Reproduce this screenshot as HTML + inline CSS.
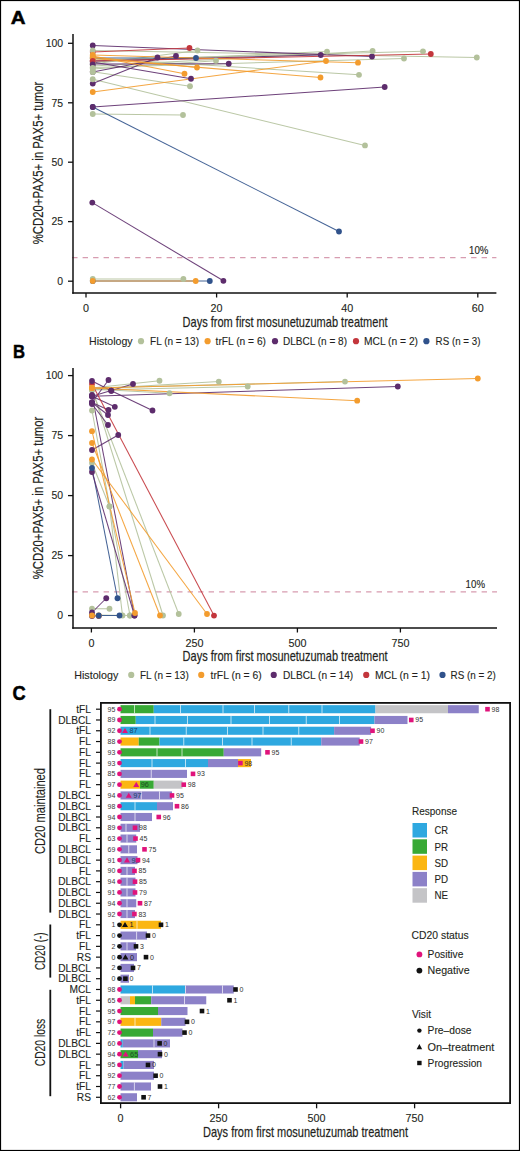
<!DOCTYPE html>
<html><head><meta charset="utf-8"><style>
html,body{margin:0;padding:0;background:#fff;}
body{width:520px;height:1151px;overflow:hidden;}
svg{display:block;font-family:"Liberation Sans", sans-serif;}
text.m{stroke:#231f20;stroke-width:0.22px;stroke-opacity:0.55;}
</style></head><body>
<svg width="520" height="1151" viewBox="0 0 520 1151" font-family='"Liberation Sans", sans-serif' fill="#231f20">
<rect x="0" y="0" width="520" height="1151" fill="#fff"/>
<text x="10.70" y="23.70" font-size="18.8" textLength="14.80" lengthAdjust="spacingAndGlyphs" fill="#000" font-weight="bold" stroke="#000" stroke-width="0.5">A</text>
<text x="13.00" y="358.20" font-size="19.0" textLength="12.00" lengthAdjust="spacingAndGlyphs" fill="#000" font-weight="bold" stroke="#000" stroke-width="0.5">B</text>
<text x="12.60" y="699.90" font-size="19.8" textLength="13.20" lengthAdjust="spacingAndGlyphs" fill="#000" font-weight="bold" stroke="#000" stroke-width="0.5">C</text>
<line x1="72.10" y1="257.60" x2="496.40" y2="257.60" stroke="#d79cb0" stroke-width="1.2" stroke-dasharray="5.4 5.1"/>
<line x1="73.00" y1="34.00" x2="73.00" y2="293.75" stroke="#111" stroke-width="1.5" />
<line x1="72.25" y1="293.00" x2="496.40" y2="293.00" stroke="#111" stroke-width="1.5" />
<line x1="68.00" y1="43.30" x2="73.00" y2="43.30" stroke="#111" stroke-width="1.3" />
<text class="m" x="63.10" y="47.10" font-size="10.3" text-anchor="end" textLength="17.40" lengthAdjust="spacingAndGlyphs" >100</text>
<line x1="68.00" y1="102.80" x2="73.00" y2="102.80" stroke="#111" stroke-width="1.3" />
<text class="m" x="63.10" y="106.60" font-size="10.3" text-anchor="end" textLength="11.60" lengthAdjust="spacingAndGlyphs" >75</text>
<line x1="68.00" y1="162.20" x2="73.00" y2="162.20" stroke="#111" stroke-width="1.3" />
<text class="m" x="63.10" y="166.00" font-size="10.3" text-anchor="end" textLength="11.60" lengthAdjust="spacingAndGlyphs" >50</text>
<line x1="68.00" y1="221.60" x2="73.00" y2="221.60" stroke="#111" stroke-width="1.3" />
<text class="m" x="63.10" y="225.40" font-size="10.3" text-anchor="end" textLength="11.60" lengthAdjust="spacingAndGlyphs" >25</text>
<line x1="68.00" y1="281.20" x2="73.00" y2="281.20" stroke="#111" stroke-width="1.3" />
<text class="m" x="63.10" y="285.00" font-size="10.3" text-anchor="end" textLength="5.80" lengthAdjust="spacingAndGlyphs" >0</text>
<line x1="86.00" y1="293.00" x2="86.00" y2="297.50" stroke="#111" stroke-width="1.3" />
<text class="m" x="86.00" y="311.60" font-size="10.3" text-anchor="middle" textLength="6.00" lengthAdjust="spacingAndGlyphs" >0</text>
<line x1="216.60" y1="293.00" x2="216.60" y2="297.50" stroke="#111" stroke-width="1.3" />
<text class="m" x="216.60" y="311.60" font-size="10.3" text-anchor="middle" textLength="12.00" lengthAdjust="spacingAndGlyphs" >20</text>
<line x1="347.20" y1="293.00" x2="347.20" y2="297.50" stroke="#111" stroke-width="1.3" />
<text class="m" x="347.20" y="311.60" font-size="10.3" text-anchor="middle" textLength="12.00" lengthAdjust="spacingAndGlyphs" >40</text>
<line x1="477.80" y1="293.00" x2="477.80" y2="297.50" stroke="#111" stroke-width="1.3" />
<text class="m" x="477.80" y="311.60" font-size="10.3" text-anchor="middle" textLength="12.00" lengthAdjust="spacingAndGlyphs" >60</text>
<text class="m" x="469.00" y="254.20" font-size="10.3" textLength="19.40" lengthAdjust="spacingAndGlyphs" >10%</text>
<text class="m" x="182.60" y="327.20" font-size="14.4" textLength="205.00" lengthAdjust="spacingAndGlyphs" style="stroke-width:0.4px">Days from first mosunetuzumab treatment</text>
<text class="m" x="0" y="0" font-size="14.4" style="stroke-width:0.35px" textLength="162.5" lengthAdjust="spacingAndGlyphs" text-anchor="middle" fill="#231f20" transform="translate(42.6 163) rotate(-90)">%CD20+PAX5+ in PAX5+ tumor</text>
<line x1="92.75" y1="50.50" x2="476.80" y2="57.50" stroke="#b3c19b" stroke-width="1.05" stroke-opacity="0.9"/>
<line x1="92.75" y1="60.00" x2="423.00" y2="51.30" stroke="#b3c19b" stroke-width="1.05" stroke-opacity="0.9"/>
<line x1="92.75" y1="66.00" x2="372.60" y2="51.00" stroke="#b3c19b" stroke-width="1.05" stroke-opacity="0.9"/>
<line x1="92.75" y1="67.40" x2="404.00" y2="58.50" stroke="#b3c19b" stroke-width="1.05" stroke-opacity="0.9"/>
<line x1="92.75" y1="62.00" x2="327.00" y2="51.60" stroke="#b3c19b" stroke-width="1.05" stroke-opacity="0.9"/>
<line x1="92.75" y1="64.00" x2="197.50" y2="50.50" stroke="#b3c19b" stroke-width="1.05" stroke-opacity="0.9"/>
<line x1="92.75" y1="69.00" x2="216.00" y2="60.75" stroke="#b3c19b" stroke-width="1.05" stroke-opacity="0.9"/>
<line x1="92.75" y1="71.75" x2="190.00" y2="86.25" stroke="#b3c19b" stroke-width="1.05" stroke-opacity="0.9"/>
<line x1="92.75" y1="79.25" x2="365.00" y2="145.40" stroke="#b3c19b" stroke-width="1.05" stroke-opacity="0.9"/>
<line x1="92.75" y1="58.00" x2="359.00" y2="74.80" stroke="#b3c19b" stroke-width="1.05" stroke-opacity="0.9"/>
<line x1="92.75" y1="114.00" x2="183.00" y2="115.00" stroke="#b3c19b" stroke-width="1.05" stroke-opacity="0.9"/>
<line x1="92.75" y1="279.00" x2="183.40" y2="279.00" stroke="#b3c19b" stroke-width="1.05" stroke-opacity="0.9"/>
<line x1="92.75" y1="45.50" x2="372.00" y2="56.50" stroke="#5d2c6c" stroke-width="1.05" stroke-opacity="0.9"/>
<line x1="92.75" y1="64.00" x2="228.75" y2="63.75" stroke="#5d2c6c" stroke-width="1.05" stroke-opacity="0.9"/>
<line x1="92.75" y1="62.00" x2="191.00" y2="78.75" stroke="#5d2c6c" stroke-width="1.05" stroke-opacity="0.9"/>
<line x1="92.75" y1="72.00" x2="176.00" y2="56.00" stroke="#5d2c6c" stroke-width="1.05" stroke-opacity="0.9"/>
<line x1="92.75" y1="83.60" x2="157.50" y2="57.50" stroke="#5d2c6c" stroke-width="1.05" stroke-opacity="0.9"/>
<line x1="92.75" y1="61.00" x2="320.75" y2="55.00" stroke="#5d2c6c" stroke-width="1.05" stroke-opacity="0.9"/>
<line x1="92.75" y1="107.00" x2="384.70" y2="87.00" stroke="#5d2c6c" stroke-width="1.05" stroke-opacity="0.9"/>
<line x1="92.30" y1="202.60" x2="223.40" y2="280.80" stroke="#5d2c6c" stroke-width="1.05" stroke-opacity="0.9"/>
<line x1="92.75" y1="52.00" x2="189.50" y2="48.00" stroke="#c3363c" stroke-width="1.05" stroke-opacity="0.9"/>
<line x1="92.75" y1="61.00" x2="430.80" y2="54.00" stroke="#c3363c" stroke-width="1.05" stroke-opacity="0.9"/>
<line x1="92.75" y1="58.00" x2="196.00" y2="58.00" stroke="#30528b" stroke-width="1.05" stroke-opacity="0.9"/>
<line x1="92.75" y1="107.00" x2="339.00" y2="231.50" stroke="#30528b" stroke-width="1.05" stroke-opacity="0.9"/>
<line x1="92.75" y1="281.00" x2="209.80" y2="281.00" stroke="#30528b" stroke-width="1.05" stroke-opacity="0.9"/>
<line x1="92.75" y1="58.60" x2="320.50" y2="77.50" stroke="#f39c2e" stroke-width="1.05" stroke-opacity="0.9"/>
<line x1="92.75" y1="55.00" x2="358.00" y2="62.70" stroke="#f39c2e" stroke-width="1.05" stroke-opacity="0.9"/>
<line x1="92.75" y1="57.00" x2="197.00" y2="67.50" stroke="#f39c2e" stroke-width="1.05" stroke-opacity="0.9"/>
<line x1="92.75" y1="56.00" x2="184.50" y2="73.75" stroke="#f39c2e" stroke-width="1.05" stroke-opacity="0.9"/>
<line x1="92.75" y1="92.00" x2="326.00" y2="61.00" stroke="#f39c2e" stroke-width="1.05" stroke-opacity="0.9"/>
<line x1="92.75" y1="281.00" x2="195.70" y2="281.00" stroke="#f39c2e" stroke-width="1.05" stroke-opacity="0.9"/>
<circle cx="92.75" cy="52.00" r="2.9" fill="#c3363c" />
<circle cx="189.50" cy="48.00" r="2.9" fill="#c3363c" />
<circle cx="92.75" cy="61.00" r="2.9" fill="#c3363c" />
<circle cx="430.80" cy="54.00" r="2.9" fill="#c3363c" />
<circle cx="92.75" cy="58.00" r="2.9" fill="#30528b" />
<circle cx="196.00" cy="58.00" r="2.9" fill="#30528b" />
<circle cx="92.75" cy="107.00" r="2.9" fill="#30528b" />
<circle cx="339.00" cy="231.50" r="2.9" fill="#30528b" />
<circle cx="92.75" cy="281.00" r="2.9" fill="#30528b" />
<circle cx="209.80" cy="281.00" r="2.9" fill="#30528b" />
<circle cx="92.75" cy="45.50" r="2.9" fill="#5d2c6c" />
<circle cx="372.00" cy="56.50" r="2.9" fill="#5d2c6c" />
<circle cx="92.75" cy="64.00" r="2.9" fill="#5d2c6c" />
<circle cx="228.75" cy="63.75" r="2.9" fill="#5d2c6c" />
<circle cx="92.75" cy="62.00" r="2.9" fill="#5d2c6c" />
<circle cx="191.00" cy="78.75" r="2.9" fill="#5d2c6c" />
<circle cx="92.75" cy="72.00" r="2.9" fill="#5d2c6c" />
<circle cx="176.00" cy="56.00" r="2.9" fill="#5d2c6c" />
<circle cx="92.75" cy="83.60" r="2.9" fill="#5d2c6c" />
<circle cx="157.50" cy="57.50" r="2.9" fill="#5d2c6c" />
<circle cx="92.75" cy="61.00" r="2.9" fill="#5d2c6c" />
<circle cx="320.75" cy="55.00" r="2.9" fill="#5d2c6c" />
<circle cx="92.75" cy="107.00" r="2.9" fill="#5d2c6c" />
<circle cx="384.70" cy="87.00" r="2.9" fill="#5d2c6c" />
<circle cx="92.30" cy="202.60" r="2.9" fill="#5d2c6c" />
<circle cx="223.40" cy="280.80" r="2.9" fill="#5d2c6c" />
<circle cx="92.75" cy="50.50" r="2.9" fill="#b3c19b" />
<circle cx="476.80" cy="57.50" r="2.9" fill="#b3c19b" />
<circle cx="92.75" cy="60.00" r="2.9" fill="#b3c19b" />
<circle cx="423.00" cy="51.30" r="2.9" fill="#b3c19b" />
<circle cx="92.75" cy="66.00" r="2.9" fill="#b3c19b" />
<circle cx="372.60" cy="51.00" r="2.9" fill="#b3c19b" />
<circle cx="92.75" cy="67.40" r="2.9" fill="#b3c19b" />
<circle cx="404.00" cy="58.50" r="2.9" fill="#b3c19b" />
<circle cx="92.75" cy="62.00" r="2.9" fill="#b3c19b" />
<circle cx="327.00" cy="51.60" r="2.9" fill="#b3c19b" />
<circle cx="92.75" cy="64.00" r="2.9" fill="#b3c19b" />
<circle cx="197.50" cy="50.50" r="2.9" fill="#b3c19b" />
<circle cx="92.75" cy="69.00" r="2.9" fill="#b3c19b" />
<circle cx="216.00" cy="60.75" r="2.9" fill="#b3c19b" />
<circle cx="92.75" cy="71.75" r="2.9" fill="#b3c19b" />
<circle cx="190.00" cy="86.25" r="2.9" fill="#b3c19b" />
<circle cx="92.75" cy="79.25" r="2.9" fill="#b3c19b" />
<circle cx="365.00" cy="145.40" r="2.9" fill="#b3c19b" />
<circle cx="92.75" cy="58.00" r="2.9" fill="#b3c19b" />
<circle cx="359.00" cy="74.80" r="2.9" fill="#b3c19b" />
<circle cx="92.75" cy="114.00" r="2.9" fill="#b3c19b" />
<circle cx="183.00" cy="115.00" r="2.9" fill="#b3c19b" />
<circle cx="92.75" cy="279.00" r="2.9" fill="#b3c19b" />
<circle cx="183.40" cy="279.00" r="2.9" fill="#b3c19b" />
<circle cx="92.75" cy="58.60" r="2.9" fill="#f39c2e" />
<circle cx="320.50" cy="77.50" r="2.9" fill="#f39c2e" />
<circle cx="92.75" cy="55.00" r="2.9" fill="#f39c2e" />
<circle cx="358.00" cy="62.70" r="2.9" fill="#f39c2e" />
<circle cx="92.75" cy="57.00" r="2.9" fill="#f39c2e" />
<circle cx="197.00" cy="67.50" r="2.9" fill="#f39c2e" />
<circle cx="92.75" cy="56.00" r="2.9" fill="#f39c2e" />
<circle cx="184.50" cy="73.75" r="2.9" fill="#f39c2e" />
<circle cx="92.75" cy="92.00" r="2.9" fill="#f39c2e" />
<circle cx="326.00" cy="61.00" r="2.9" fill="#f39c2e" />
<circle cx="92.75" cy="281.00" r="2.9" fill="#f39c2e" />
<circle cx="195.70" cy="281.00" r="2.9" fill="#f39c2e" />
<circle cx="92.75" cy="61.00" r="2.9" fill="#c3363c" />
<circle cx="92.75" cy="64.50" r="2.9" fill="#5d2c6c" />
<circle cx="92.75" cy="68.00" r="2.9" fill="#b3c19b" />
<circle cx="92.75" cy="72.00" r="2.9" fill="#b3c19b" />
<text class="m" x="89.00" y="345.20" font-size="10.6" textLength="43.60" lengthAdjust="spacingAndGlyphs" >Histology</text>
<circle cx="141.00" cy="341.20" r="3.1" fill="#b3c19b" />
<text class="m" x="150.00" y="345.20" font-size="10.6" textLength="49.00" lengthAdjust="spacingAndGlyphs" >FL (n = 13)</text>
<circle cx="207.60" cy="341.20" r="3.1" fill="#f39c2e" />
<text class="m" x="215.60" y="345.20" font-size="10.6" textLength="50.40" lengthAdjust="spacingAndGlyphs" >trFL (n = 6)</text>
<circle cx="275.00" cy="341.20" r="3.1" fill="#5d2c6c" />
<text class="m" x="283.00" y="345.20" font-size="10.6" textLength="64.00" lengthAdjust="spacingAndGlyphs" >DLBCL (n = 8)</text>
<circle cx="356.00" cy="341.20" r="3.1" fill="#c3363c" />
<text class="m" x="364.00" y="345.20" font-size="10.6" textLength="54.00" lengthAdjust="spacingAndGlyphs" >MCL (n = 2)</text>
<circle cx="426.40" cy="341.20" r="3.1" fill="#30528b" />
<text class="m" x="435.60" y="345.20" font-size="10.6" textLength="44.80" lengthAdjust="spacingAndGlyphs" >RS (n = 3)</text>
<line x1="72.10" y1="591.80" x2="497.00" y2="591.80" stroke="#d79cb0" stroke-width="1.2" stroke-dasharray="5.4 5.1"/>
<line x1="73.00" y1="368.00" x2="73.00" y2="628.75" stroke="#111" stroke-width="1.5" />
<line x1="72.25" y1="628.00" x2="497.00" y2="628.00" stroke="#111" stroke-width="1.5" />
<line x1="68.00" y1="375.60" x2="73.00" y2="375.60" stroke="#111" stroke-width="1.3" />
<text class="m" x="63.10" y="379.40" font-size="10.3" text-anchor="end" textLength="17.40" lengthAdjust="spacingAndGlyphs" >100</text>
<line x1="68.00" y1="435.60" x2="73.00" y2="435.60" stroke="#111" stroke-width="1.3" />
<text class="m" x="63.10" y="439.40" font-size="10.3" text-anchor="end" textLength="11.60" lengthAdjust="spacingAndGlyphs" >75</text>
<line x1="68.00" y1="495.60" x2="73.00" y2="495.60" stroke="#111" stroke-width="1.3" />
<text class="m" x="63.10" y="499.40" font-size="10.3" text-anchor="end" textLength="11.60" lengthAdjust="spacingAndGlyphs" >50</text>
<line x1="68.00" y1="555.60" x2="73.00" y2="555.60" stroke="#111" stroke-width="1.3" />
<text class="m" x="63.10" y="559.40" font-size="10.3" text-anchor="end" textLength="11.60" lengthAdjust="spacingAndGlyphs" >25</text>
<line x1="68.00" y1="615.60" x2="73.00" y2="615.60" stroke="#111" stroke-width="1.3" />
<text class="m" x="63.10" y="619.40" font-size="10.3" text-anchor="end" textLength="5.80" lengthAdjust="spacingAndGlyphs" >0</text>
<line x1="91.40" y1="628.00" x2="91.40" y2="632.50" stroke="#111" stroke-width="1.3" />
<text class="m" x="91.40" y="646.60" font-size="10.3" text-anchor="middle" textLength="6.00" lengthAdjust="spacingAndGlyphs" >0</text>
<line x1="194.40" y1="628.00" x2="194.40" y2="632.50" stroke="#111" stroke-width="1.3" />
<text class="m" x="194.40" y="646.60" font-size="10.3" text-anchor="middle" textLength="18.00" lengthAdjust="spacingAndGlyphs" >250</text>
<line x1="297.40" y1="628.00" x2="297.40" y2="632.50" stroke="#111" stroke-width="1.3" />
<text class="m" x="297.40" y="646.60" font-size="10.3" text-anchor="middle" textLength="18.00" lengthAdjust="spacingAndGlyphs" >500</text>
<line x1="400.40" y1="628.00" x2="400.40" y2="632.50" stroke="#111" stroke-width="1.3" />
<text class="m" x="400.40" y="646.60" font-size="10.3" text-anchor="middle" textLength="18.00" lengthAdjust="spacingAndGlyphs" >750</text>
<text class="m" x="465.60" y="588.40" font-size="10.3" textLength="19.40" lengthAdjust="spacingAndGlyphs" >10%</text>
<text class="m" x="182.60" y="661.20" font-size="14.4" textLength="205.00" lengthAdjust="spacingAndGlyphs" style="stroke-width:0.4px">Days from first mosunetuzumab treatment</text>
<text class="m" x="0" y="0" font-size="14.4" style="stroke-width:0.35px" textLength="162.5" lengthAdjust="spacingAndGlyphs" text-anchor="middle" fill="#231f20" transform="translate(42.6 498) rotate(-90)">%CD20+PAX5+ in PAX5+ tumor</text>
<line x1="92.00" y1="388.00" x2="159.50" y2="380.75" stroke="#b3c19b" stroke-width="1.05" stroke-opacity="0.9"/>
<line x1="92.00" y1="389.00" x2="218.80" y2="381.60" stroke="#b3c19b" stroke-width="1.05" stroke-opacity="0.9"/>
<line x1="92.00" y1="390.00" x2="247.70" y2="386.50" stroke="#b3c19b" stroke-width="1.05" stroke-opacity="0.9"/>
<line x1="92.00" y1="388.00" x2="345.00" y2="381.60" stroke="#b3c19b" stroke-width="1.05" stroke-opacity="0.9"/>
<line x1="92.00" y1="389.00" x2="169.50" y2="393.25" stroke="#b3c19b" stroke-width="1.05" stroke-opacity="0.9"/>
<line x1="92.00" y1="388.00" x2="163.00" y2="615.50" stroke="#b3c19b" stroke-width="1.05" stroke-opacity="0.9"/>
<line x1="92.00" y1="390.00" x2="178.75" y2="614.00" stroke="#b3c19b" stroke-width="1.05" stroke-opacity="0.9"/>
<line x1="92.00" y1="463.00" x2="109.50" y2="506.50" stroke="#b3c19b" stroke-width="1.05" stroke-opacity="0.9"/>
<line x1="109.50" y1="506.50" x2="122.50" y2="615.50" stroke="#b3c19b" stroke-width="1.05" stroke-opacity="0.9"/>
<line x1="92.00" y1="608.75" x2="109.50" y2="608.75" stroke="#b3c19b" stroke-width="1.05" stroke-opacity="0.9"/>
<line x1="92.00" y1="615.00" x2="130.00" y2="615.50" stroke="#b3c19b" stroke-width="1.05" stroke-opacity="0.9"/>
<line x1="92.00" y1="410.50" x2="130.00" y2="615.50" stroke="#b3c19b" stroke-width="1.05" stroke-opacity="0.9"/>
<line x1="92.00" y1="468.00" x2="117.50" y2="598.25" stroke="#30528b" stroke-width="1.05" stroke-opacity="0.9"/>
<line x1="98.75" y1="615.50" x2="119.50" y2="615.50" stroke="#30528b" stroke-width="1.05" stroke-opacity="0.9"/>
<line x1="92.00" y1="381.00" x2="111.25" y2="390.75" stroke="#5d2c6c" stroke-width="1.05" stroke-opacity="0.9"/>
<line x1="111.25" y1="390.75" x2="152.50" y2="410.50" stroke="#5d2c6c" stroke-width="1.05" stroke-opacity="0.9"/>
<line x1="92.00" y1="402.50" x2="108.50" y2="380.00" stroke="#5d2c6c" stroke-width="1.05" stroke-opacity="0.9"/>
<line x1="92.00" y1="396.20" x2="133.00" y2="384.00" stroke="#5d2c6c" stroke-width="1.05" stroke-opacity="0.9"/>
<line x1="92.00" y1="396.20" x2="397.80" y2="386.50" stroke="#5d2c6c" stroke-width="1.05" stroke-opacity="0.9"/>
<line x1="92.00" y1="396.20" x2="114.80" y2="406.80" stroke="#5d2c6c" stroke-width="1.05" stroke-opacity="0.9"/>
<line x1="92.00" y1="402.50" x2="108.50" y2="410.00" stroke="#5d2c6c" stroke-width="1.05" stroke-opacity="0.9"/>
<line x1="92.00" y1="402.50" x2="108.00" y2="415.00" stroke="#5d2c6c" stroke-width="1.05" stroke-opacity="0.9"/>
<line x1="92.00" y1="404.00" x2="108.00" y2="425.00" stroke="#5d2c6c" stroke-width="1.05" stroke-opacity="0.9"/>
<line x1="92.00" y1="450.00" x2="118.25" y2="435.00" stroke="#5d2c6c" stroke-width="1.05" stroke-opacity="0.9"/>
<line x1="92.00" y1="472.00" x2="134.50" y2="615.50" stroke="#5d2c6c" stroke-width="1.05" stroke-opacity="0.9"/>
<line x1="92.00" y1="395.00" x2="134.50" y2="615.50" stroke="#5d2c6c" stroke-width="1.05" stroke-opacity="0.9"/>
<line x1="92.00" y1="612.50" x2="106.25" y2="598.25" stroke="#5d2c6c" stroke-width="1.05" stroke-opacity="0.9"/>
<line x1="92.00" y1="616.00" x2="98.75" y2="616.00" stroke="#5d2c6c" stroke-width="1.05" stroke-opacity="0.9"/>
<line x1="92.00" y1="384.00" x2="214.00" y2="615.60" stroke="#c3363c" stroke-width="1.05" stroke-opacity="0.9"/>
<line x1="92.00" y1="388.00" x2="477.80" y2="378.50" stroke="#f39c2e" stroke-width="1.05" stroke-opacity="0.9"/>
<line x1="92.00" y1="388.00" x2="357.20" y2="400.70" stroke="#f39c2e" stroke-width="1.05" stroke-opacity="0.9"/>
<line x1="92.00" y1="459.50" x2="207.00" y2="614.00" stroke="#f39c2e" stroke-width="1.05" stroke-opacity="0.9"/>
<line x1="92.00" y1="443.00" x2="160.00" y2="615.50" stroke="#f39c2e" stroke-width="1.05" stroke-opacity="0.9"/>
<line x1="92.00" y1="431.20" x2="135.00" y2="613.00" stroke="#f39c2e" stroke-width="1.05" stroke-opacity="0.9"/>
<line x1="92.00" y1="615.50" x2="98.75" y2="615.50" stroke="#f39c2e" stroke-width="1.05" stroke-opacity="0.9"/>
<circle cx="92.00" cy="384.00" r="2.9" fill="#c3363c" />
<circle cx="214.00" cy="615.60" r="2.9" fill="#c3363c" />
<circle cx="92.00" cy="388.00" r="2.9" fill="#b3c19b" />
<circle cx="159.50" cy="380.75" r="2.9" fill="#b3c19b" />
<circle cx="92.00" cy="389.00" r="2.9" fill="#b3c19b" />
<circle cx="218.80" cy="381.60" r="2.9" fill="#b3c19b" />
<circle cx="92.00" cy="390.00" r="2.9" fill="#b3c19b" />
<circle cx="247.70" cy="386.50" r="2.9" fill="#b3c19b" />
<circle cx="92.00" cy="388.00" r="2.9" fill="#b3c19b" />
<circle cx="345.00" cy="381.60" r="2.9" fill="#b3c19b" />
<circle cx="92.00" cy="389.00" r="2.9" fill="#b3c19b" />
<circle cx="169.50" cy="393.25" r="2.9" fill="#b3c19b" />
<circle cx="92.00" cy="388.00" r="2.9" fill="#b3c19b" />
<circle cx="163.00" cy="615.50" r="2.9" fill="#b3c19b" />
<circle cx="92.00" cy="390.00" r="2.9" fill="#b3c19b" />
<circle cx="178.75" cy="614.00" r="2.9" fill="#b3c19b" />
<circle cx="92.00" cy="463.00" r="2.9" fill="#b3c19b" />
<circle cx="109.50" cy="506.50" r="2.9" fill="#b3c19b" />
<circle cx="109.50" cy="506.50" r="2.9" fill="#b3c19b" />
<circle cx="122.50" cy="615.50" r="2.9" fill="#b3c19b" />
<circle cx="92.00" cy="608.75" r="2.9" fill="#b3c19b" />
<circle cx="109.50" cy="608.75" r="2.9" fill="#b3c19b" />
<circle cx="92.00" cy="615.00" r="2.9" fill="#b3c19b" />
<circle cx="130.00" cy="615.50" r="2.9" fill="#b3c19b" />
<circle cx="92.00" cy="410.50" r="2.9" fill="#b3c19b" />
<circle cx="130.00" cy="615.50" r="2.9" fill="#b3c19b" />
<circle cx="92.00" cy="381.00" r="2.9" fill="#5d2c6c" />
<circle cx="111.25" cy="390.75" r="2.9" fill="#5d2c6c" />
<circle cx="111.25" cy="390.75" r="2.9" fill="#5d2c6c" />
<circle cx="152.50" cy="410.50" r="2.9" fill="#5d2c6c" />
<circle cx="92.00" cy="402.50" r="2.9" fill="#5d2c6c" />
<circle cx="108.50" cy="380.00" r="2.9" fill="#5d2c6c" />
<circle cx="92.00" cy="396.20" r="2.9" fill="#5d2c6c" />
<circle cx="133.00" cy="384.00" r="2.9" fill="#5d2c6c" />
<circle cx="92.00" cy="396.20" r="2.9" fill="#5d2c6c" />
<circle cx="397.80" cy="386.50" r="2.9" fill="#5d2c6c" />
<circle cx="92.00" cy="396.20" r="2.9" fill="#5d2c6c" />
<circle cx="114.80" cy="406.80" r="2.9" fill="#5d2c6c" />
<circle cx="92.00" cy="402.50" r="2.9" fill="#5d2c6c" />
<circle cx="108.50" cy="410.00" r="2.9" fill="#5d2c6c" />
<circle cx="92.00" cy="402.50" r="2.9" fill="#5d2c6c" />
<circle cx="108.00" cy="415.00" r="2.9" fill="#5d2c6c" />
<circle cx="92.00" cy="404.00" r="2.9" fill="#5d2c6c" />
<circle cx="108.00" cy="425.00" r="2.9" fill="#5d2c6c" />
<circle cx="92.00" cy="450.00" r="2.9" fill="#5d2c6c" />
<circle cx="118.25" cy="435.00" r="2.9" fill="#5d2c6c" />
<circle cx="92.00" cy="472.00" r="2.9" fill="#5d2c6c" />
<circle cx="134.50" cy="615.50" r="2.9" fill="#5d2c6c" />
<circle cx="92.00" cy="395.00" r="2.9" fill="#5d2c6c" />
<circle cx="134.50" cy="615.50" r="2.9" fill="#5d2c6c" />
<circle cx="92.00" cy="612.50" r="2.9" fill="#5d2c6c" />
<circle cx="106.25" cy="598.25" r="2.9" fill="#5d2c6c" />
<circle cx="92.00" cy="616.00" r="2.9" fill="#5d2c6c" />
<circle cx="98.75" cy="616.00" r="2.9" fill="#5d2c6c" />
<circle cx="92.00" cy="388.00" r="2.9" fill="#f39c2e" />
<circle cx="477.80" cy="378.50" r="2.9" fill="#f39c2e" />
<circle cx="92.00" cy="388.00" r="2.9" fill="#f39c2e" />
<circle cx="357.20" cy="400.70" r="2.9" fill="#f39c2e" />
<circle cx="92.00" cy="459.50" r="2.9" fill="#f39c2e" />
<circle cx="207.00" cy="614.00" r="2.9" fill="#f39c2e" />
<circle cx="92.00" cy="443.00" r="2.9" fill="#f39c2e" />
<circle cx="160.00" cy="615.50" r="2.9" fill="#f39c2e" />
<circle cx="92.00" cy="431.20" r="2.9" fill="#f39c2e" />
<circle cx="135.00" cy="613.00" r="2.9" fill="#f39c2e" />
<circle cx="92.00" cy="615.50" r="2.9" fill="#f39c2e" />
<circle cx="98.75" cy="615.50" r="2.9" fill="#f39c2e" />
<circle cx="92.00" cy="468.00" r="2.9" fill="#30528b" />
<circle cx="117.50" cy="598.25" r="2.9" fill="#30528b" />
<circle cx="98.75" cy="615.50" r="2.9" fill="#30528b" />
<circle cx="119.50" cy="615.50" r="2.9" fill="#30528b" />
<text class="m" x="74.25" y="678.90" font-size="10.6" textLength="44.00" lengthAdjust="spacingAndGlyphs" >Histology</text>
<circle cx="131.25" cy="674.90" r="3.1" fill="#b3c19b" />
<text class="m" x="140.00" y="678.90" font-size="10.6" textLength="48.75" lengthAdjust="spacingAndGlyphs" >FL (n = 13)</text>
<circle cx="201.25" cy="674.90" r="3.1" fill="#f39c2e" />
<text class="m" x="210.50" y="678.90" font-size="10.6" textLength="51.25" lengthAdjust="spacingAndGlyphs" >trFL (n = 6)</text>
<circle cx="273.75" cy="674.90" r="3.1" fill="#5d2c6c" />
<text class="m" x="283.00" y="678.90" font-size="10.6" textLength="70.25" lengthAdjust="spacingAndGlyphs" >DLBCL (n = 14)</text>
<circle cx="366.25" cy="674.90" r="3.1" fill="#c3363c" />
<text class="m" x="375.00" y="678.90" font-size="10.6" textLength="55.00" lengthAdjust="spacingAndGlyphs" >MCL (n = 1)</text>
<circle cx="442.50" cy="674.90" r="3.1" fill="#30528b" />
<text class="m" x="450.50" y="678.90" font-size="10.6" textLength="45.30" lengthAdjust="spacingAndGlyphs" >RS (n = 2)</text>
<rect x="100.9" y="702.9" width="409.2" height="400.2" fill="none" stroke="#111" stroke-width="1.8"/>
<text class="m" x="91.00" y="712.80" font-size="10.2" text-anchor="end" >tFL</text>
<line x1="96.00" y1="709.20" x2="100.00" y2="709.20" stroke="#111" stroke-width="1.2" />
<text x="115.40" y="711.70" font-size="7.0" text-anchor="end" fill="#3a3a3a" >95</text>
<rect x="120.50" y="705.15" width="33.25" height="8.10" fill="#38a935"/>
<rect x="153.75" y="705.15" width="221.75" height="8.10" fill="#2ea8e0"/>
<rect x="375.50" y="705.15" width="72.50" height="8.10" fill="#c4c4c7"/>
<rect x="448.00" y="705.15" width="30.75" height="8.10" fill="#8c81c8"/>
<line x1="134.50" y1="705.15" x2="134.50" y2="713.25" stroke="#ffffff" stroke-width="0.9" stroke-opacity="0.75"/>
<line x1="180.50" y1="705.15" x2="180.50" y2="713.25" stroke="#ffffff" stroke-width="0.9" stroke-opacity="0.75"/>
<line x1="223.00" y1="705.15" x2="223.00" y2="713.25" stroke="#ffffff" stroke-width="0.9" stroke-opacity="0.75"/>
<line x1="254.50" y1="705.15" x2="254.50" y2="713.25" stroke="#ffffff" stroke-width="0.9" stroke-opacity="0.75"/>
<line x1="288.75" y1="705.15" x2="288.75" y2="713.25" stroke="#ffffff" stroke-width="0.9" stroke-opacity="0.75"/>
<line x1="322.00" y1="705.15" x2="322.00" y2="713.25" stroke="#ffffff" stroke-width="0.9" stroke-opacity="0.75"/>
<circle cx="119.50" cy="709.20" r="2.4" fill="#e0137b" />
<rect x="485.20" y="706.90" width="4.60" height="4.60" fill="#e0137b"/>
<text x="491.50" y="711.70" font-size="7.0" fill="#333" >98</text>
<text class="m" x="91.00" y="723.58" font-size="10.2" text-anchor="end" >DLBCL</text>
<line x1="96.00" y1="719.98" x2="100.00" y2="719.98" stroke="#111" stroke-width="1.2" />
<text x="115.40" y="722.48" font-size="7.0" text-anchor="end" fill="#3a3a3a" >89</text>
<rect x="120.50" y="715.93" width="15.25" height="8.10" fill="#38a935"/>
<rect x="135.75" y="715.93" width="238.75" height="8.10" fill="#2ea8e0"/>
<rect x="374.50" y="715.93" width="33.00" height="8.10" fill="#8c81c8"/>
<line x1="155.00" y1="715.93" x2="155.00" y2="724.03" stroke="#ffffff" stroke-width="0.9" stroke-opacity="0.75"/>
<line x1="187.50" y1="715.93" x2="187.50" y2="724.03" stroke="#ffffff" stroke-width="0.9" stroke-opacity="0.75"/>
<line x1="231.00" y1="715.93" x2="231.00" y2="724.03" stroke="#ffffff" stroke-width="0.9" stroke-opacity="0.75"/>
<line x1="269.50" y1="715.93" x2="269.50" y2="724.03" stroke="#ffffff" stroke-width="0.9" stroke-opacity="0.75"/>
<line x1="306.25" y1="715.93" x2="306.25" y2="724.03" stroke="#ffffff" stroke-width="0.9" stroke-opacity="0.75"/>
<line x1="339.50" y1="715.93" x2="339.50" y2="724.03" stroke="#ffffff" stroke-width="0.9" stroke-opacity="0.75"/>
<circle cx="119.50" cy="719.98" r="2.4" fill="#e0137b" />
<rect x="408.95" y="717.68" width="4.60" height="4.60" fill="#e0137b"/>
<text x="415.25" y="722.48" font-size="7.0" fill="#333" >95</text>
<text class="m" x="91.00" y="734.36" font-size="10.2" text-anchor="end" >tFL</text>
<line x1="96.00" y1="730.76" x2="100.00" y2="730.76" stroke="#111" stroke-width="1.2" />
<text x="115.40" y="733.26" font-size="7.0" text-anchor="end" fill="#3a3a3a" >92</text>
<rect x="120.50" y="726.71" width="213.60" height="8.10" fill="#2ea8e0"/>
<rect x="334.10" y="726.71" width="37.00" height="8.10" fill="#8c81c8"/>
<line x1="150.00" y1="726.71" x2="150.00" y2="734.81" stroke="#ffffff" stroke-width="0.9" stroke-opacity="0.75"/>
<line x1="186.25" y1="726.71" x2="186.25" y2="734.81" stroke="#ffffff" stroke-width="0.9" stroke-opacity="0.75"/>
<line x1="227.50" y1="726.71" x2="227.50" y2="734.81" stroke="#ffffff" stroke-width="0.9" stroke-opacity="0.75"/>
<line x1="263.00" y1="726.71" x2="263.00" y2="734.81" stroke="#ffffff" stroke-width="0.9" stroke-opacity="0.75"/>
<line x1="298.75" y1="726.71" x2="298.75" y2="734.81" stroke="#ffffff" stroke-width="0.9" stroke-opacity="0.75"/>
<circle cx="119.50" cy="730.76" r="2.4" fill="#e0137b" />
<path d="M122.00 733.06 L125.00 727.96 L128.00 733.06 Z" fill="#e0137b"/>
<text x="129.50" y="733.36" font-size="7.3" fill="#17426a" >87</text>
<rect x="370.20" y="728.46" width="4.60" height="4.60" fill="#e0137b"/>
<text x="376.50" y="733.26" font-size="7.0" fill="#333" >90</text>
<text class="m" x="91.00" y="745.14" font-size="10.2" text-anchor="end" >FL</text>
<line x1="96.00" y1="741.54" x2="100.00" y2="741.54" stroke="#111" stroke-width="1.2" />
<text x="115.40" y="744.04" font-size="7.0" text-anchor="end" fill="#3a3a3a" >88</text>
<rect x="120.50" y="737.49" width="18.25" height="8.10" fill="#fbb612"/>
<rect x="138.75" y="737.49" width="20.75" height="8.10" fill="#38a935"/>
<rect x="159.50" y="737.49" width="161.75" height="8.10" fill="#2ea8e0"/>
<rect x="321.25" y="737.49" width="38.45" height="8.10" fill="#8c81c8"/>
<line x1="183.75" y1="737.49" x2="183.75" y2="745.59" stroke="#ffffff" stroke-width="0.9" stroke-opacity="0.75"/>
<line x1="222.50" y1="737.49" x2="222.50" y2="745.59" stroke="#ffffff" stroke-width="0.9" stroke-opacity="0.75"/>
<line x1="252.00" y1="737.49" x2="252.00" y2="745.59" stroke="#ffffff" stroke-width="0.9" stroke-opacity="0.75"/>
<line x1="291.25" y1="737.49" x2="291.25" y2="745.59" stroke="#ffffff" stroke-width="0.9" stroke-opacity="0.75"/>
<circle cx="119.50" cy="741.54" r="2.4" fill="#e0137b" />
<rect x="358.70" y="739.24" width="4.60" height="4.60" fill="#e0137b"/>
<text x="365.00" y="744.04" font-size="7.0" fill="#333" >97</text>
<text class="m" x="91.00" y="755.92" font-size="10.2" text-anchor="end" >FL</text>
<line x1="96.00" y1="752.32" x2="100.00" y2="752.32" stroke="#111" stroke-width="1.2" />
<text x="115.40" y="754.82" font-size="7.0" text-anchor="end" fill="#3a3a3a" >93</text>
<rect x="120.50" y="748.27" width="103.25" height="8.10" fill="#38a935"/>
<rect x="223.75" y="748.27" width="37.45" height="8.10" fill="#8c81c8"/>
<line x1="157.00" y1="748.27" x2="157.00" y2="756.37" stroke="#ffffff" stroke-width="0.9" stroke-opacity="0.75"/>
<line x1="182.00" y1="748.27" x2="182.00" y2="756.37" stroke="#ffffff" stroke-width="0.9" stroke-opacity="0.75"/>
<circle cx="119.50" cy="752.32" r="2.4" fill="#e0137b" />
<rect x="265.20" y="750.02" width="4.60" height="4.60" fill="#e0137b"/>
<text x="271.50" y="754.82" font-size="7.0" fill="#333" >95</text>
<text class="m" x="91.00" y="766.70" font-size="10.2" text-anchor="end" >FL</text>
<line x1="96.00" y1="763.10" x2="100.00" y2="763.10" stroke="#111" stroke-width="1.2" />
<text x="115.40" y="765.60" font-size="7.0" text-anchor="end" fill="#3a3a3a" >93</text>
<rect x="120.50" y="759.05" width="87.50" height="8.10" fill="#2ea8e0"/>
<rect x="208.00" y="759.05" width="30.00" height="8.10" fill="#8c81c8"/>
<rect x="238.00" y="759.05" width="13.00" height="8.10" fill="#fbb612"/>
<line x1="152.00" y1="759.05" x2="152.00" y2="767.15" stroke="#ffffff" stroke-width="0.9" stroke-opacity="0.75"/>
<line x1="185.50" y1="759.05" x2="185.50" y2="767.15" stroke="#ffffff" stroke-width="0.9" stroke-opacity="0.75"/>
<circle cx="119.50" cy="763.10" r="2.4" fill="#e0137b" />
<rect x="238.10" y="760.80" width="4.60" height="4.60" fill="#e0137b"/>
<text x="244.40" y="765.60" font-size="7.0" fill="#333" >98</text>
<text class="m" x="91.00" y="777.48" font-size="10.2" text-anchor="end" >FL</text>
<line x1="96.00" y1="773.88" x2="100.00" y2="773.88" stroke="#111" stroke-width="1.2" />
<text x="115.40" y="776.38" font-size="7.0" text-anchor="end" fill="#3a3a3a" >85</text>
<rect x="120.50" y="769.83" width="66.50" height="8.10" fill="#8c81c8"/>
<line x1="151.25" y1="769.83" x2="151.25" y2="777.93" stroke="#ffffff" stroke-width="0.9" stroke-opacity="0.75"/>
<circle cx="119.50" cy="773.88" r="2.4" fill="#e0137b" />
<rect x="190.70" y="771.58" width="4.60" height="4.60" fill="#e0137b"/>
<text x="197.00" y="776.38" font-size="7.0" fill="#333" >93</text>
<text class="m" x="91.00" y="788.26" font-size="10.2" text-anchor="end" >FL</text>
<line x1="96.00" y1="784.66" x2="100.00" y2="784.66" stroke="#111" stroke-width="1.2" />
<text x="115.40" y="787.16" font-size="7.0" text-anchor="end" fill="#3a3a3a" >97</text>
<rect x="120.50" y="780.61" width="19.50" height="8.10" fill="#fbb612"/>
<rect x="140.00" y="780.61" width="13.75" height="8.10" fill="#38a935"/>
<rect x="153.75" y="780.61" width="28.75" height="8.10" fill="#c4c4c7"/>
<circle cx="119.50" cy="784.66" r="2.4" fill="#e0137b" />
<path d="M133.25 786.96 L136.25 781.86 L139.25 786.96 Z" fill="#e0137b"/>
<text x="140.75" y="787.26" font-size="7.3" fill="#1f4d22" >96</text>
<rect x="181.45" y="782.36" width="4.60" height="4.60" fill="#e0137b"/>
<text x="187.75" y="787.16" font-size="7.0" fill="#333" >98</text>
<text class="m" x="91.00" y="799.04" font-size="10.2" text-anchor="end" >DLBCL</text>
<line x1="96.00" y1="795.44" x2="100.00" y2="795.44" stroke="#111" stroke-width="1.2" />
<text x="115.40" y="797.94" font-size="7.0" text-anchor="end" fill="#3a3a3a" >94</text>
<rect x="120.50" y="791.39" width="51.50" height="8.10" fill="#8c81c8"/>
<line x1="141.25" y1="791.39" x2="141.25" y2="799.49" stroke="#ffffff" stroke-width="0.9" stroke-opacity="0.75"/>
<line x1="159.50" y1="791.39" x2="159.50" y2="799.49" stroke="#ffffff" stroke-width="0.9" stroke-opacity="0.75"/>
<circle cx="119.50" cy="795.44" r="2.4" fill="#e0137b" />
<path d="M125.75 797.74 L128.75 792.64 L131.75 797.74 Z" fill="#e0137b"/>
<text x="133.25" y="798.04" font-size="7.3" fill="#17426a" >97</text>
<rect x="169.70" y="793.14" width="4.60" height="4.60" fill="#e0137b"/>
<text x="176.00" y="797.94" font-size="7.0" fill="#333" >95</text>
<text class="m" x="91.00" y="809.82" font-size="10.2" text-anchor="end" >DLBCL</text>
<line x1="96.00" y1="806.22" x2="100.00" y2="806.22" stroke="#111" stroke-width="1.2" />
<text x="115.40" y="808.72" font-size="7.0" text-anchor="end" fill="#3a3a3a" >98</text>
<rect x="120.50" y="802.17" width="36.50" height="8.10" fill="#2ea8e0"/>
<rect x="157.00" y="802.17" width="16.00" height="8.10" fill="#8c81c8"/>
<line x1="135.00" y1="802.17" x2="135.00" y2="810.27" stroke="#ffffff" stroke-width="0.9" stroke-opacity="0.75"/>
<circle cx="119.50" cy="806.22" r="2.4" fill="#e0137b" />
<rect x="174.70" y="803.92" width="4.60" height="4.60" fill="#e0137b"/>
<text x="181.00" y="808.72" font-size="7.0" fill="#333" >86</text>
<text class="m" x="91.00" y="820.60" font-size="10.2" text-anchor="end" >DLBCL</text>
<line x1="96.00" y1="817.00" x2="100.00" y2="817.00" stroke="#111" stroke-width="1.2" />
<text x="115.40" y="819.50" font-size="7.0" text-anchor="end" fill="#3a3a3a" >94</text>
<rect x="120.50" y="812.95" width="31.50" height="8.10" fill="#8c81c8"/>
<line x1="135.00" y1="812.95" x2="135.00" y2="821.05" stroke="#ffffff" stroke-width="0.9" stroke-opacity="0.75"/>
<circle cx="119.50" cy="817.00" r="2.4" fill="#e0137b" />
<rect x="156.45" y="814.70" width="4.60" height="4.60" fill="#e0137b"/>
<text x="162.75" y="819.50" font-size="7.0" fill="#333" >96</text>
<text class="m" x="91.00" y="831.38" font-size="10.2" text-anchor="end" >DLBCL</text>
<line x1="96.00" y1="827.78" x2="100.00" y2="827.78" stroke="#111" stroke-width="1.2" />
<text x="115.40" y="830.28" font-size="7.0" text-anchor="end" fill="#3a3a3a" >89</text>
<rect x="120.50" y="823.73" width="19.50" height="8.10" fill="#8c81c8"/>
<line x1="126.00" y1="823.73" x2="126.00" y2="831.83" stroke="#ffffff" stroke-width="0.9" stroke-opacity="0.75"/>
<circle cx="119.50" cy="827.78" r="2.4" fill="#e0137b" />
<rect x="132.70" y="825.48" width="4.60" height="4.60" fill="#e0137b"/>
<text x="139.00" y="830.28" font-size="7.0" fill="#333" >98</text>
<text class="m" x="91.00" y="842.16" font-size="10.2" text-anchor="end" >FL</text>
<line x1="96.00" y1="838.56" x2="100.00" y2="838.56" stroke="#111" stroke-width="1.2" />
<text x="115.40" y="841.06" font-size="7.0" text-anchor="end" fill="#3a3a3a" >63</text>
<rect x="120.50" y="834.51" width="15.75" height="8.10" fill="#8c81c8"/>
<line x1="127.00" y1="834.51" x2="127.00" y2="842.61" stroke="#ffffff" stroke-width="0.9" stroke-opacity="0.75"/>
<circle cx="119.50" cy="838.56" r="2.4" fill="#e0137b" />
<rect x="133.20" y="836.26" width="4.60" height="4.60" fill="#e0137b"/>
<text x="139.50" y="841.06" font-size="7.0" fill="#333" >45</text>
<text class="m" x="91.00" y="852.94" font-size="10.2" text-anchor="end" >DLBCL</text>
<line x1="96.00" y1="849.34" x2="100.00" y2="849.34" stroke="#111" stroke-width="1.2" />
<text x="115.40" y="851.84" font-size="7.0" text-anchor="end" fill="#3a3a3a" >69</text>
<rect x="120.50" y="845.29" width="16.50" height="8.10" fill="#8c81c8"/>
<line x1="128.75" y1="845.29" x2="128.75" y2="853.39" stroke="#ffffff" stroke-width="0.9" stroke-opacity="0.75"/>
<circle cx="119.50" cy="849.34" r="2.4" fill="#e0137b" />
<rect x="142.20" y="847.04" width="4.60" height="4.60" fill="#e0137b"/>
<text x="148.50" y="851.84" font-size="7.0" fill="#333" >75</text>
<text class="m" x="91.00" y="863.72" font-size="10.2" text-anchor="end" >DLBCL</text>
<line x1="96.00" y1="860.12" x2="100.00" y2="860.12" stroke="#111" stroke-width="1.2" />
<text x="115.40" y="862.62" font-size="7.0" text-anchor="end" fill="#3a3a3a" >91</text>
<rect x="120.50" y="856.07" width="17.00" height="8.10" fill="#8c81c8"/>
<circle cx="119.50" cy="860.12" r="2.4" fill="#e0137b" />
<path d="M124.00 862.42 L127.00 857.32 L130.00 862.42 Z" fill="#e0137b"/>
<text x="131.50" y="862.72" font-size="7.3" fill="#17426a" >98</text>
<rect x="135.70" y="857.82" width="4.60" height="4.60" fill="#e0137b"/>
<text x="142.00" y="862.62" font-size="7.0" fill="#333" >94</text>
<text class="m" x="91.00" y="874.50" font-size="10.2" text-anchor="end" >FL</text>
<line x1="96.00" y1="870.90" x2="100.00" y2="870.90" stroke="#111" stroke-width="1.2" />
<text x="115.40" y="873.40" font-size="7.0" text-anchor="end" fill="#3a3a3a" >90</text>
<rect x="120.50" y="866.85" width="14.50" height="8.10" fill="#8c81c8"/>
<line x1="127.00" y1="866.85" x2="127.00" y2="874.95" stroke="#ffffff" stroke-width="0.9" stroke-opacity="0.75"/>
<circle cx="119.50" cy="870.90" r="2.4" fill="#e0137b" />
<rect x="132.20" y="868.60" width="4.60" height="4.60" fill="#e0137b"/>
<text x="138.50" y="873.40" font-size="7.0" fill="#333" >85</text>
<text class="m" x="91.00" y="885.28" font-size="10.2" text-anchor="end" >DLBCL</text>
<line x1="96.00" y1="881.68" x2="100.00" y2="881.68" stroke="#111" stroke-width="1.2" />
<text x="115.40" y="884.18" font-size="7.0" text-anchor="end" fill="#3a3a3a" >94</text>
<rect x="120.50" y="877.63" width="15.00" height="8.10" fill="#8c81c8"/>
<line x1="127.00" y1="877.63" x2="127.00" y2="885.73" stroke="#ffffff" stroke-width="0.9" stroke-opacity="0.75"/>
<circle cx="119.50" cy="881.68" r="2.4" fill="#e0137b" />
<rect x="132.70" y="879.38" width="4.60" height="4.60" fill="#e0137b"/>
<text x="139.00" y="884.18" font-size="7.0" fill="#333" >85</text>
<text class="m" x="91.00" y="896.06" font-size="10.2" text-anchor="end" >DLBCL</text>
<line x1="96.00" y1="892.46" x2="100.00" y2="892.46" stroke="#111" stroke-width="1.2" />
<text x="115.40" y="894.96" font-size="7.0" text-anchor="end" fill="#3a3a3a" >91</text>
<rect x="120.50" y="888.41" width="15.00" height="8.10" fill="#8c81c8"/>
<line x1="127.00" y1="888.41" x2="127.00" y2="896.51" stroke="#ffffff" stroke-width="0.9" stroke-opacity="0.75"/>
<circle cx="119.50" cy="892.46" r="2.4" fill="#e0137b" />
<rect x="132.70" y="890.16" width="4.60" height="4.60" fill="#e0137b"/>
<text x="139.00" y="894.96" font-size="7.0" fill="#333" >79</text>
<text class="m" x="91.00" y="906.84" font-size="10.2" text-anchor="end" >DLBCL</text>
<line x1="96.00" y1="903.24" x2="100.00" y2="903.24" stroke="#111" stroke-width="1.2" />
<text x="115.40" y="905.74" font-size="7.0" text-anchor="end" fill="#3a3a3a" >94</text>
<rect x="120.50" y="899.19" width="15.75" height="8.10" fill="#8c81c8"/>
<line x1="127.00" y1="899.19" x2="127.00" y2="907.29" stroke="#ffffff" stroke-width="0.9" stroke-opacity="0.75"/>
<circle cx="119.50" cy="903.24" r="2.4" fill="#e0137b" />
<rect x="137.70" y="900.94" width="4.60" height="4.60" fill="#e0137b"/>
<text x="144.00" y="905.74" font-size="7.0" fill="#333" >87</text>
<text class="m" x="91.00" y="917.62" font-size="10.2" text-anchor="end" >DLBCL</text>
<line x1="96.00" y1="914.02" x2="100.00" y2="914.02" stroke="#111" stroke-width="1.2" />
<text x="115.40" y="916.52" font-size="7.0" text-anchor="end" fill="#3a3a3a" >92</text>
<rect x="120.50" y="909.97" width="14.50" height="8.10" fill="#8c81c8"/>
<line x1="127.00" y1="909.97" x2="127.00" y2="918.07" stroke="#ffffff" stroke-width="0.9" stroke-opacity="0.75"/>
<circle cx="119.50" cy="914.02" r="2.4" fill="#e0137b" />
<rect x="132.10" y="911.72" width="4.60" height="4.60" fill="#e0137b"/>
<text x="138.40" y="916.52" font-size="7.0" fill="#333" >83</text>
<text class="m" x="91.00" y="928.40" font-size="10.2" text-anchor="end" >FL</text>
<line x1="96.00" y1="924.80" x2="100.00" y2="924.80" stroke="#111" stroke-width="1.2" />
<text x="115.40" y="927.30" font-size="7.0" text-anchor="end" fill="#3a3a3a" >1</text>
<rect x="120.50" y="920.75" width="40.50" height="8.10" fill="#fbb612"/>
<line x1="137.00" y1="920.75" x2="137.00" y2="928.85" stroke="#ffffff" stroke-width="0.9" stroke-opacity="0.75"/>
<circle cx="119.50" cy="924.80" r="2.4" fill="#111" />
<path d="M122.00 927.10 L125.00 922.00 L128.00 927.10 Z" fill="#111"/>
<text x="129.50" y="927.40" font-size="7.3" fill="#222" >1</text>
<rect x="158.70" y="922.50" width="4.60" height="4.60" fill="#111"/>
<text x="165.00" y="927.30" font-size="7.0" fill="#333" >1</text>
<text class="m" x="91.00" y="939.18" font-size="10.2" text-anchor="end" >tFL</text>
<line x1="96.00" y1="935.58" x2="100.00" y2="935.58" stroke="#111" stroke-width="1.2" />
<text x="115.40" y="938.08" font-size="7.0" text-anchor="end" fill="#3a3a3a" >0</text>
<rect x="120.50" y="931.53" width="26.50" height="8.10" fill="#8c81c8"/>
<line x1="136.60" y1="931.53" x2="136.60" y2="939.63" stroke="#ffffff" stroke-width="0.9" stroke-opacity="0.75"/>
<circle cx="119.50" cy="935.58" r="2.4" fill="#111" />
<rect x="145.70" y="933.28" width="4.60" height="4.60" fill="#111"/>
<text x="152.00" y="938.08" font-size="7.0" fill="#333" >0</text>
<text class="m" x="91.00" y="949.96" font-size="10.2" text-anchor="end" >FL</text>
<line x1="96.00" y1="946.36" x2="100.00" y2="946.36" stroke="#111" stroke-width="1.2" />
<text x="115.40" y="948.86" font-size="7.0" text-anchor="end" fill="#3a3a3a" >2</text>
<rect x="120.50" y="942.31" width="15.50" height="8.10" fill="#8c81c8"/>
<line x1="127.00" y1="942.31" x2="127.00" y2="950.41" stroke="#ffffff" stroke-width="0.9" stroke-opacity="0.75"/>
<circle cx="119.50" cy="946.36" r="2.4" fill="#111" />
<rect x="133.70" y="944.06" width="4.60" height="4.60" fill="#111"/>
<text x="140.00" y="948.86" font-size="7.0" fill="#333" >3</text>
<text class="m" x="91.00" y="960.74" font-size="10.2" text-anchor="end" >RS</text>
<line x1="96.00" y1="957.14" x2="100.00" y2="957.14" stroke="#111" stroke-width="1.2" />
<text x="115.40" y="959.64" font-size="7.0" text-anchor="end" fill="#3a3a3a" >0</text>
<rect x="120.50" y="953.09" width="16.50" height="8.10" fill="#8c81c8"/>
<circle cx="119.50" cy="957.14" r="2.4" fill="#111" />
<path d="M122.40 959.44 L125.40 954.34 L128.40 959.44 Z" fill="#111"/>
<text x="129.90" y="959.74" font-size="7.3" fill="#222" >0</text>
<rect x="143.70" y="954.84" width="4.60" height="4.60" fill="#111"/>
<text x="150.00" y="959.64" font-size="7.0" fill="#333" >0</text>
<text class="m" x="91.00" y="971.52" font-size="10.2" text-anchor="end" >DLBCL</text>
<line x1="96.00" y1="967.92" x2="100.00" y2="967.92" stroke="#111" stroke-width="1.2" />
<text x="115.40" y="970.42" font-size="7.0" text-anchor="end" fill="#3a3a3a" >2</text>
<rect x="120.50" y="963.87" width="13.50" height="8.10" fill="#8c81c8"/>
<circle cx="119.50" cy="967.92" r="2.4" fill="#111" />
<rect x="130.70" y="965.62" width="4.60" height="4.60" fill="#111"/>
<text x="137.00" y="970.42" font-size="7.0" fill="#333" >7</text>
<text class="m" x="91.00" y="982.30" font-size="10.2" text-anchor="end" >DLBCL</text>
<line x1="96.00" y1="978.70" x2="100.00" y2="978.70" stroke="#111" stroke-width="1.2" />
<text x="115.40" y="981.20" font-size="7.0" text-anchor="end" fill="#3a3a3a" >0</text>
<rect x="120.50" y="974.65" width="8.50" height="8.10" fill="#8c81c8"/>
<circle cx="119.50" cy="978.70" r="2.4" fill="#111" />
<rect x="123.10" y="976.40" width="4.60" height="4.60" fill="#111"/>
<text x="129.40" y="981.20" font-size="7.0" fill="#333" >0</text>
<text class="m" x="91.00" y="993.08" font-size="10.2" text-anchor="end" >MCL</text>
<line x1="96.00" y1="989.48" x2="100.00" y2="989.48" stroke="#111" stroke-width="1.2" />
<text x="115.40" y="991.98" font-size="7.0" text-anchor="end" fill="#3a3a3a" >98</text>
<rect x="120.50" y="985.43" width="64.50" height="8.10" fill="#2ea8e0"/>
<rect x="185.00" y="985.43" width="48.75" height="8.10" fill="#8c81c8"/>
<line x1="152.50" y1="985.43" x2="152.50" y2="993.53" stroke="#ffffff" stroke-width="0.9" stroke-opacity="0.75"/>
<line x1="185.50" y1="985.43" x2="185.50" y2="993.53" stroke="#ffffff" stroke-width="0.9" stroke-opacity="0.75"/>
<line x1="222.50" y1="985.43" x2="222.50" y2="993.53" stroke="#ffffff" stroke-width="0.9" stroke-opacity="0.75"/>
<circle cx="119.50" cy="989.48" r="2.4" fill="#e0137b" />
<rect x="233.20" y="987.18" width="4.60" height="4.60" fill="#111"/>
<text x="239.50" y="991.98" font-size="7.0" fill="#333" >0</text>
<text class="m" x="91.00" y="1003.86" font-size="10.2" text-anchor="end" >tFL</text>
<line x1="96.00" y1="1000.26" x2="100.00" y2="1000.26" stroke="#111" stroke-width="1.2" />
<text x="115.40" y="1002.76" font-size="7.0" text-anchor="end" fill="#3a3a3a" >65</text>
<rect x="120.50" y="996.21" width="9.50" height="8.10" fill="#c4c4c7"/>
<rect x="130.00" y="996.21" width="5.00" height="8.10" fill="#fbb612"/>
<rect x="135.00" y="996.21" width="16.25" height="8.10" fill="#38a935"/>
<rect x="151.25" y="996.21" width="55.00" height="8.10" fill="#8c81c8"/>
<line x1="184.50" y1="996.21" x2="184.50" y2="1004.31" stroke="#ffffff" stroke-width="0.9" stroke-opacity="0.75"/>
<circle cx="119.50" cy="1000.26" r="2.4" fill="#e0137b" />
<rect x="227.20" y="997.96" width="4.60" height="4.60" fill="#111"/>
<text x="233.50" y="1002.76" font-size="7.0" fill="#333" >1</text>
<text class="m" x="91.00" y="1014.64" font-size="10.2" text-anchor="end" >FL</text>
<line x1="96.00" y1="1011.04" x2="100.00" y2="1011.04" stroke="#111" stroke-width="1.2" />
<text x="115.40" y="1013.54" font-size="7.0" text-anchor="end" fill="#3a3a3a" >95</text>
<rect x="120.50" y="1006.99" width="37.50" height="8.10" fill="#38a935"/>
<rect x="158.00" y="1006.99" width="29.50" height="8.10" fill="#8c81c8"/>
<circle cx="119.50" cy="1011.04" r="2.4" fill="#e0137b" />
<rect x="199.70" y="1008.74" width="4.60" height="4.60" fill="#111"/>
<text x="206.00" y="1013.54" font-size="7.0" fill="#333" >1</text>
<text class="m" x="91.00" y="1025.42" font-size="10.2" text-anchor="end" >FL</text>
<line x1="96.00" y1="1021.82" x2="100.00" y2="1021.82" stroke="#111" stroke-width="1.2" />
<text x="115.40" y="1024.32" font-size="7.0" text-anchor="end" fill="#3a3a3a" >97</text>
<rect x="120.50" y="1017.77" width="40.75" height="8.10" fill="#fbb612"/>
<rect x="161.25" y="1017.77" width="24.25" height="8.10" fill="#8c81c8"/>
<line x1="135.00" y1="1017.77" x2="135.00" y2="1025.87" stroke="#ffffff" stroke-width="0.9" stroke-opacity="0.75"/>
<circle cx="119.50" cy="1021.82" r="2.4" fill="#e0137b" />
<rect x="184.70" y="1019.52" width="4.60" height="4.60" fill="#111"/>
<text x="191.00" y="1024.32" font-size="7.0" fill="#333" >0</text>
<text class="m" x="91.00" y="1036.20" font-size="10.2" text-anchor="end" >tFL</text>
<line x1="96.00" y1="1032.60" x2="100.00" y2="1032.60" stroke="#111" stroke-width="1.2" />
<text x="115.40" y="1035.10" font-size="7.0" text-anchor="end" fill="#3a3a3a" >72</text>
<rect x="120.50" y="1028.55" width="32.50" height="8.10" fill="#38a935"/>
<rect x="153.00" y="1028.55" width="29.50" height="8.10" fill="#8c81c8"/>
<circle cx="119.50" cy="1032.60" r="2.4" fill="#e0137b" />
<rect x="182.20" y="1030.30" width="4.60" height="4.60" fill="#111"/>
<text x="188.50" y="1035.10" font-size="7.0" fill="#333" >0</text>
<text class="m" x="91.00" y="1046.98" font-size="10.2" text-anchor="end" >DLBCL</text>
<line x1="96.00" y1="1043.38" x2="100.00" y2="1043.38" stroke="#111" stroke-width="1.2" />
<text x="115.40" y="1045.88" font-size="7.0" text-anchor="end" fill="#3a3a3a" >60</text>
<rect x="120.50" y="1039.33" width="2.30" height="8.10" fill="#2ea8e0"/>
<rect x="122.80" y="1039.33" width="47.20" height="8.10" fill="#8c81c8"/>
<line x1="154.00" y1="1039.33" x2="154.00" y2="1047.43" stroke="#ffffff" stroke-width="0.9" stroke-opacity="0.75"/>
<circle cx="119.50" cy="1043.38" r="2.4" fill="#e0137b" />
<rect x="157.30" y="1041.08" width="4.60" height="4.60" fill="#111"/>
<text x="163.60" y="1045.88" font-size="7.0" fill="#333" >0</text>
<text class="m" x="91.00" y="1057.76" font-size="10.2" text-anchor="end" >DLBCL</text>
<line x1="96.00" y1="1054.16" x2="100.00" y2="1054.16" stroke="#111" stroke-width="1.2" />
<text x="115.40" y="1056.66" font-size="7.0" text-anchor="end" fill="#3a3a3a" >94</text>
<rect x="120.50" y="1050.11" width="17.50" height="8.10" fill="#38a935"/>
<rect x="138.00" y="1050.11" width="24.00" height="8.10" fill="#8c81c8"/>
<circle cx="119.50" cy="1054.16" r="2.4" fill="#e0137b" />
<path d="M122.60 1056.46 L125.60 1051.36 L128.60 1056.46 Z" fill="#e0137b"/>
<text x="130.10" y="1056.76" font-size="7.3" fill="#1f4d22" >65</text>
<rect x="157.70" y="1051.86" width="4.60" height="4.60" fill="#111"/>
<text x="164.00" y="1056.66" font-size="7.0" fill="#333" >0</text>
<text class="m" x="91.00" y="1068.54" font-size="10.2" text-anchor="end" >FL</text>
<line x1="96.00" y1="1064.94" x2="100.00" y2="1064.94" stroke="#111" stroke-width="1.2" />
<text x="115.40" y="1067.44" font-size="7.0" text-anchor="end" fill="#3a3a3a" >95</text>
<rect x="120.50" y="1060.89" width="3.00" height="8.10" fill="#2ea8e0"/>
<rect x="123.50" y="1060.89" width="30.50" height="8.10" fill="#8c81c8"/>
<circle cx="119.50" cy="1064.94" r="2.4" fill="#e0137b" />
<rect x="145.70" y="1062.64" width="4.60" height="4.60" fill="#111"/>
<text x="152.00" y="1067.44" font-size="7.0" fill="#333" >0</text>
<text class="m" x="91.00" y="1079.32" font-size="10.2" text-anchor="end" >FL</text>
<line x1="96.00" y1="1075.72" x2="100.00" y2="1075.72" stroke="#111" stroke-width="1.2" />
<text x="115.40" y="1078.22" font-size="7.0" text-anchor="end" fill="#3a3a3a" >92</text>
<rect x="120.50" y="1071.67" width="33.50" height="8.10" fill="#8c81c8"/>
<circle cx="119.50" cy="1075.72" r="2.4" fill="#e0137b" />
<rect x="153.30" y="1073.42" width="4.60" height="4.60" fill="#111"/>
<text x="159.60" y="1078.22" font-size="7.0" fill="#333" >0</text>
<text class="m" x="91.00" y="1090.10" font-size="10.2" text-anchor="end" >tFL</text>
<line x1="96.00" y1="1086.50" x2="100.00" y2="1086.50" stroke="#111" stroke-width="1.2" />
<text x="115.40" y="1089.00" font-size="7.0" text-anchor="end" fill="#3a3a3a" >77</text>
<rect x="120.50" y="1082.45" width="30.50" height="8.10" fill="#8c81c8"/>
<line x1="134.40" y1="1082.45" x2="134.40" y2="1090.55" stroke="#ffffff" stroke-width="0.9" stroke-opacity="0.75"/>
<circle cx="119.50" cy="1086.50" r="2.4" fill="#e0137b" />
<rect x="157.70" y="1084.20" width="4.60" height="4.60" fill="#111"/>
<text x="164.00" y="1089.00" font-size="7.0" fill="#333" >1</text>
<text class="m" x="91.00" y="1100.88" font-size="10.2" text-anchor="end" >RS</text>
<line x1="96.00" y1="1097.28" x2="100.00" y2="1097.28" stroke="#111" stroke-width="1.2" />
<text x="115.40" y="1099.78" font-size="7.0" text-anchor="end" fill="#3a3a3a" >62</text>
<rect x="120.50" y="1093.23" width="16.50" height="8.10" fill="#8c81c8"/>
<circle cx="119.50" cy="1097.28" r="2.4" fill="#e0137b" />
<rect x="141.30" y="1094.98" width="4.60" height="4.60" fill="#111"/>
<text x="147.60" y="1099.78" font-size="7.0" fill="#333" >7</text>
<line x1="50.30" y1="709.20" x2="50.30" y2="912.60" stroke="#111" stroke-width="1.8" />
<line x1="50.30" y1="924.50" x2="50.30" y2="977.60" stroke="#111" stroke-width="1.8" />
<line x1="50.30" y1="989.80" x2="50.30" y2="1096.20" stroke="#111" stroke-width="1.8" />
<text class="m" x="0" y="0" font-size="14" textLength="86" lengthAdjust="spacingAndGlyphs" text-anchor="middle" fill="#231f20" transform="translate(44.6 811) rotate(-90)">CD20 maintained</text>
<text class="m" x="0" y="0" font-size="14" textLength="37.5" lengthAdjust="spacingAndGlyphs" text-anchor="middle" fill="#231f20" transform="translate(44.6 951.3) rotate(-90)">CD20 (-)</text>
<text class="m" x="0" y="0" font-size="14" textLength="47.5" lengthAdjust="spacingAndGlyphs" text-anchor="middle" fill="#231f20" transform="translate(44.6 1042.5) rotate(-90)">CD20 loss</text>
<line x1="120.60" y1="1103.90" x2="120.60" y2="1108.30" stroke="#111" stroke-width="1.3" />
<text class="m" x="120.60" y="1121.60" font-size="10.3" text-anchor="middle" textLength="6.00" lengthAdjust="spacingAndGlyphs" >0</text>
<line x1="218.60" y1="1103.90" x2="218.60" y2="1108.30" stroke="#111" stroke-width="1.3" />
<text class="m" x="218.60" y="1121.60" font-size="10.3" text-anchor="middle" textLength="18.00" lengthAdjust="spacingAndGlyphs" >250</text>
<line x1="316.60" y1="1103.90" x2="316.60" y2="1108.30" stroke="#111" stroke-width="1.3" />
<text class="m" x="316.60" y="1121.60" font-size="10.3" text-anchor="middle" textLength="18.00" lengthAdjust="spacingAndGlyphs" >500</text>
<line x1="414.60" y1="1103.90" x2="414.60" y2="1108.30" stroke="#111" stroke-width="1.3" />
<text class="m" x="414.60" y="1121.60" font-size="10.3" text-anchor="middle" textLength="18.00" lengthAdjust="spacingAndGlyphs" >750</text>
<text class="m" x="203.00" y="1137.20" font-size="14.4" textLength="205.00" lengthAdjust="spacingAndGlyphs" style="stroke-width:0.4px">Days from first mosunetuzumab treatment</text>
<text class="m" x="412.00" y="815.20" font-size="10.6" textLength="45.00" lengthAdjust="spacingAndGlyphs" >Response</text>
<rect x="412.50" y="823.00" width="14.50" height="14.50" fill="#2ea8e0"/>
<text class="m" x="434.50" y="834.20" font-size="11" textLength="13.60" lengthAdjust="spacingAndGlyphs" >CR</text>
<rect x="412.50" y="839.30" width="14.50" height="14.50" fill="#38a935"/>
<text class="m" x="434.50" y="850.50" font-size="11" textLength="13.60" lengthAdjust="spacingAndGlyphs" >PR</text>
<rect x="412.50" y="855.60" width="14.50" height="14.50" fill="#fbb612"/>
<text class="m" x="434.50" y="866.80" font-size="11" textLength="13.60" lengthAdjust="spacingAndGlyphs" >SD</text>
<rect x="412.50" y="871.90" width="14.50" height="14.50" fill="#8c81c8"/>
<text class="m" x="434.50" y="883.10" font-size="11" textLength="13.60" lengthAdjust="spacingAndGlyphs" >PD</text>
<rect x="412.50" y="888.20" width="14.50" height="14.50" fill="#c4c4c7"/>
<text class="m" x="434.50" y="899.40" font-size="11" textLength="13.60" lengthAdjust="spacingAndGlyphs" >NE</text>
<text class="m" x="411.60" y="939.20" font-size="10.2" textLength="57.00" lengthAdjust="spacingAndGlyphs" >CD20 status</text>
<circle cx="419.40" cy="954.40" r="2.9" fill="#e0137b" />
<text class="m" x="427.60" y="958.20" font-size="10.6" textLength="35.80" lengthAdjust="spacingAndGlyphs" >Positive</text>
<circle cx="419.40" cy="970.60" r="2.9" fill="#111" />
<text class="m" x="427.60" y="974.40" font-size="10.6" textLength="42.00" lengthAdjust="spacingAndGlyphs" >Negative</text>
<text class="m" x="412.00" y="1018.20" font-size="10.6" textLength="19.00" lengthAdjust="spacingAndGlyphs" >Visit</text>
<circle cx="419.40" cy="1030.60" r="2.2" fill="#111" />
<text class="m" x="427.60" y="1034.40" font-size="10.6" textLength="44.00" lengthAdjust="spacingAndGlyphs" >Pre–dose</text>
<path d="M416.6 1049.2 L419.4 1044 L422.2 1049.2 Z" fill="#111"/>
<text class="m" x="427.60" y="1050.80" font-size="10.6" textLength="66.80" lengthAdjust="spacingAndGlyphs" >On–treatment</text>
<rect x="417.20" y="1060.80" width="4.40" height="4.40" fill="#111"/>
<text class="m" x="427.60" y="1067.00" font-size="10.6" textLength="54.40" lengthAdjust="spacingAndGlyphs" >Progression</text>
<rect x="0.5" y="0.5" width="519" height="1150" fill="none" stroke="#000" stroke-width="1.2"/>
</svg>
</body></html>
